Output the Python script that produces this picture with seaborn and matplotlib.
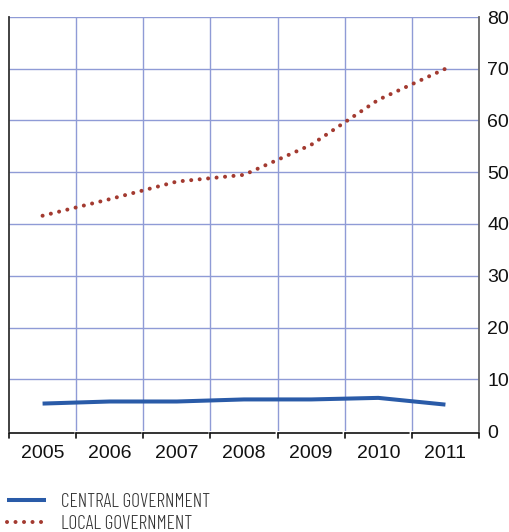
import numpy as np
import pandas as pd
import matplotlib
matplotlib.use('Agg')
import matplotlib.pyplot as plt
import matplotlib.transforms as mtransforms
from matplotlib.lines import Line2D
import seaborn as sns

years = ['2005', '2006', '2007', '2008', '2009', '2010', '2011']
central = [5.3, 5.7, 5.7, 6.1, 6.1, 6.4, 5.1]
local = [41.6, 44.8, 48.2, 49.5, 55.3, 64.0, 70.0]
series_names = ['CENTRAL GOVERNMENT', 'LOCAL GOVERNMENT']
yticks = [0, 10, 20, 30, 40, 50, 60, 70, 80]

blue = '#2a5ba8'
red = '#a33a30'
grid_col = '#8f9bd6'

sns.set_theme(style='white')
plt.rcParams['font.family'] = ['Liberation Sans', 'DejaVu Sans']

df = pd.DataFrame({'year': years, 'central': central, 'local': local})

fig = plt.figure(figsize=(5.09, 5.32), dpi=100)
ax = fig.add_axes([9/509, 1-431/532, 470/509, 414/532])

sns.lineplot(data=df, x='year', y='central', ax=ax, color=blue, lw=2.9,
             solid_capstyle='butt', sort=False)
sns.lineplot(data=df, x='year', y='local', ax=ax, color=red, lw=2.9,
             linestyle=(0, (0.01, 2.1)), dash_capstyle='round', sort=False)

n = len(years)
ax.set_xlim(-0.5, n - 0.5)
ax.set_ylim(0, 80)

# grid: horizontal at each tick, vertical at category boundaries
for v in yticks[1:]:
    ax.axhline(v, color=grid_col, lw=1, zorder=0)
for i in range(1, n):
    ax.axvline(i - 0.5, color=grid_col, lw=1, zorder=0)

for s in ['top', 'bottom']:
    ax.spines[s].set_visible(False)
ax.spines['left'].set_color('#333333')
ax.spines['left'].set_linewidth(1.3)
ax.spines['right'].set_color('#666666')
ax.spines['right'].set_linewidth(1.3)

ax.yaxis.tick_right()
ax.set_yticks(yticks)
ax.set_yticklabels([str(v) for v in yticks])
ax.tick_params(axis='y', length=0, pad=6, labelsize=14, colors='#111111')
ax.set_xticks(range(n))
ax.set_xticklabels(years)
ax.tick_params(axis='x', length=0, pad=10, labelsize=14, colors='#111111')
ax.set_xlabel('')
ax.set_ylabel('')

# bracket style category axis under the plot
trans = mtransforms.blended_transform_factory(ax.transData, ax.transAxes)
yb = -2/414
yt = -7/414
for i in range(n):
    x0 = i - 0.5
    x1 = i + 0.5 - (2.5/67.1 if i < n - 1 else 0)
    ax.plot([x0, x1], [yb, yb], color='#111111', lw=1.2, transform=trans, clip_on=False)
    ax.plot([x0, x0], [yb, yt], color='#111111', lw=1.2, transform=trans, clip_on=False)
ax.plot([n - 0.5, n - 0.5], [yb, yt], color='#111111', lw=1.2, transform=trans, clip_on=False)

handles = [Line2D([], [], color=blue, lw=2.9, solid_capstyle='butt'),
           Line2D([], [], color=red, lw=2.9, linestyle=(0, (0.01, 2.1)), dash_capstyle='round')]
leg = fig.legend(handles, series_names, loc='upper left', bbox_to_anchor=(3/509, 1-489/532),
                 frameon=False, handlelength=2.0, handletextpad=0.8, labelspacing=0.2,
                 borderaxespad=0, borderpad=0.2,
                 prop={'family': ['Barlow Condensed', 'Liberation Sans', 'DejaVu Sans'],
                       'size': 14, 'weight': 300})
for t in leg.get_texts():
    t.set_color('#333333')

fig.savefig('out.png', dpi=100)
